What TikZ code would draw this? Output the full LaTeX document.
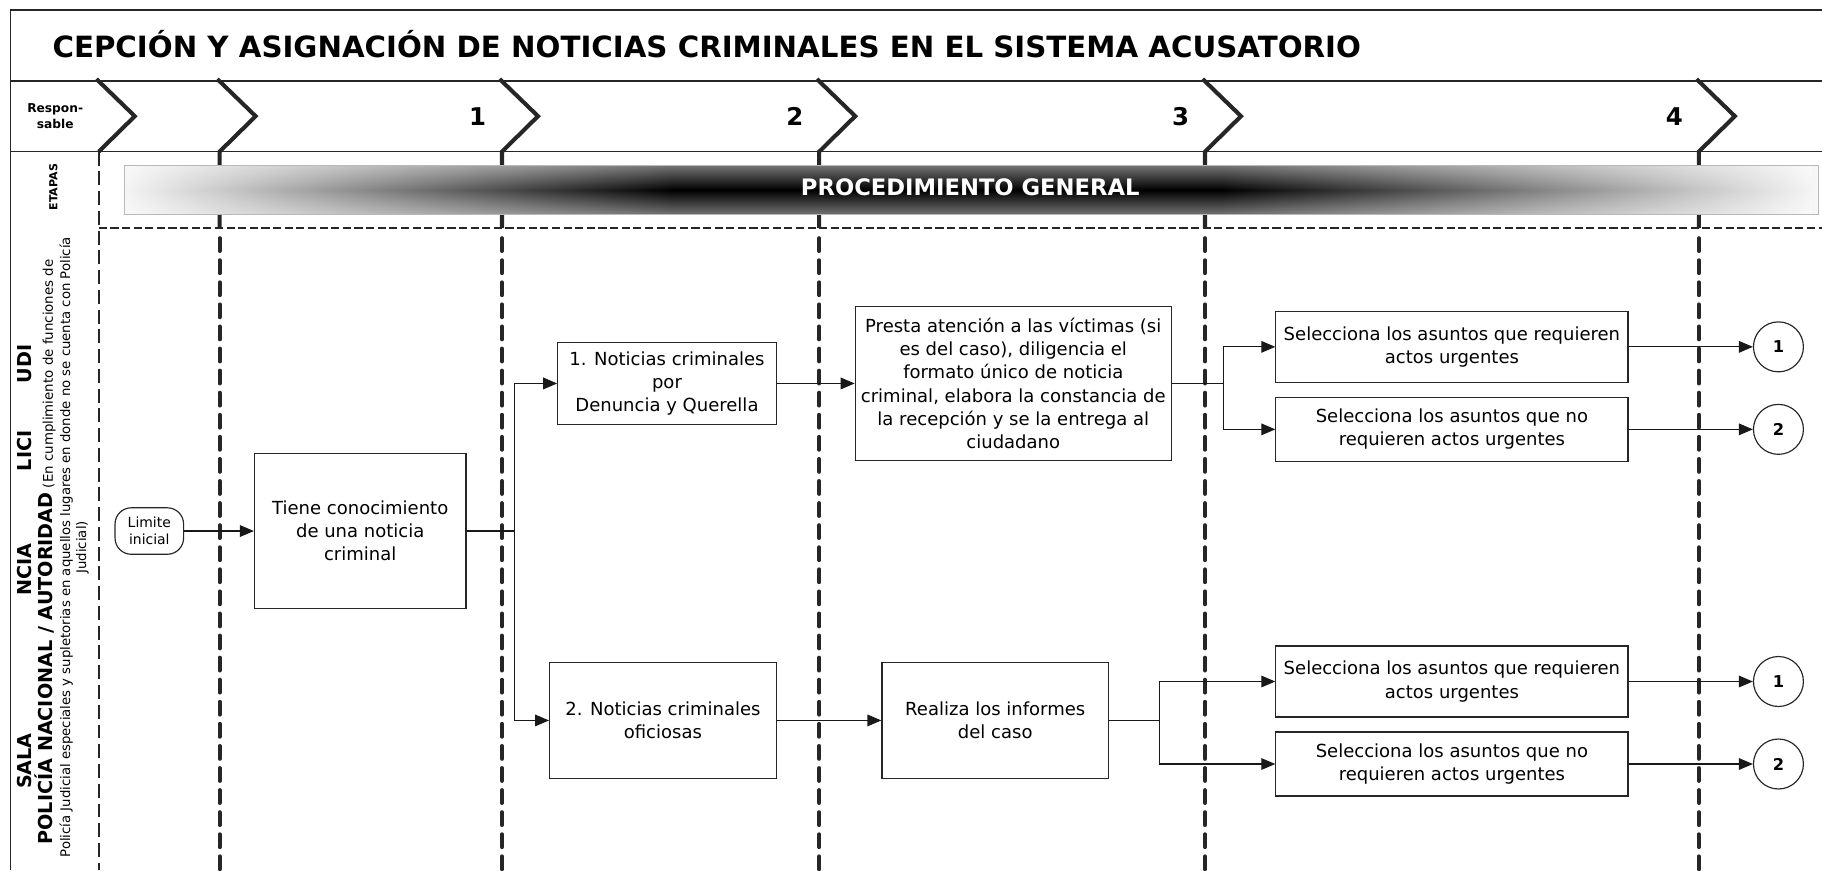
\documentclass[tikz,border=0pt]{standalone}
\usepackage{fontspec}
\setmainfont{DejaVu Sans}
\usetikzlibrary{arrows.meta, positioning, shapes, fadings}
\tikzstyle{proc} = [rectangle, draw=black!85, line width=1pt, fill=white, align=center, inner sep=2pt, font=\fontsize{15.5}{20}\selectfont]
\tikzstyle{term} = [rectangle, rounded corners=14pt, draw=black!85, line width=1pt, align=center, minimum width=59pt, minimum height=40pt, inner sep=0pt, font=\fontsize{12}{14.5}\selectfont]
\tikzstyle{conn} = [circle, draw=black!85, line width=1pt, minimum size=43pt, inner sep=0pt, font=\bfseries\fontsize{14}{14}\selectfont]
\tikzstyle{flow} = [line width=1pt, draw=black!90, -{Triangle[length=12pt,width=10pt]}]
\tikzstyle{link} = [line width=1pt, draw=black!90]
\tikzstyle{chev} = [line width=3.5pt, draw=black!85]
\tikzstyle{lanesep} = [line width=3.5pt, draw=black!85, dash pattern=on 11pt off 8pt, line cap=round]
\tikzstyle{frame} = [line width=1.3pt, draw=black!85]
\tikzfading[name=barfade, top color=transparent!55, bottom color=transparent!55, middle color=transparent!100]

\begin{document}
\begin{tikzpicture}[x=1pt, y=-1pt]
  \useasboundingbox (0,0) rectangle (1568,749);
  % frame and header rows
  \draw[frame] (1568,8.6) -- (8.9,8.6) -- (8.9,749);
  \draw[frame] (8.9,69.7) -- (1568,69.7);
  \draw[frame] (8.9,130.5) -- (1568,130.5);
  \draw[line width=1.8pt, draw=black!85, dash pattern=on 7pt off 3pt] (85,196) -- (1568,196);
  \draw[line width=2pt, draw=black!85, dash pattern=on 12pt off 5pt] (85,130.5) -- (85,749);
  \node[anchor=west, inner sep=0pt, font=\bfseries\fontsize{25.2}{29}\selectfont] (title) at (45,38) {CEPCIÓN Y ASIGNACIÓN DE NOTICIAS CRIMINALES EN EL SISTEMA ACUSATORIO};
  \node[align=center, font=\bfseries\fontsize{10.5}{14}\selectfont] (resp) at (47.5,100) {Respon-\\sable};
  \node[rotate=90, font=\bfseries\fontsize{9.5}{11}\selectfont] (etapas) at (46,161) {ETAPAS};
  % chevrons and lanes
  \draw[chev] (83,68) -- (116,100) -- (85,130.5);
  \foreach \x in {189,432,705,1037,1462} {
    \draw[chev] (\x-2,68) -- (\x+31,100) -- (\x,130.5) -- (\x,196);
    \draw[lanesep] (\x,205) -- (\x,749);
  }
  \foreach \x/\n in {432/1,705/2,1037/3,1462/4}
    \node[font=\bfseries\fontsize{21}{21}\selectfont] (num\n) at (\x-21,100) {\n};
  % stage bar
  \shade[left color=gray!8, right color=black] (107,142.6) rectangle (580,184.4);
  \fill[black] (580,142.6) rectangle (1050,184.4);
  \shade[left color=black, right color=gray!6] (1050,142.6) rectangle (1565,184.4);
  \fill[white, path fading=barfade] (107,142.6) rectangle (1565,184.4);
  \draw[gray!55, line width=0.8pt] (107,142.6) rectangle (1565,184.4);
  \node[text=white, font=\bfseries\fontsize{19.5}{22}\selectfont] (gen) at (835,161) {PROCEDIMIENTO GENERAL};
  % responsible column
  \foreach \w/\y in {UDI/313, LICI/388, NCIA/490, SALA/655}
    \node[rotate=90, font=\bfseries\fontsize{16.5}{18}\selectfont] (r\w) at (21,\y) {\w};
  \node[rotate=90, font=\fontsize{11.5}{13}\selectfont] (pol) at (39,475) {{\bfseries\fontsize{16.5}{18}\selectfont POLICÍA NACIONAL / AUTORIDAD} (En cumplimiento de funciones de};
  \node[rotate=90, font=\fontsize{11.4}{13}\selectfont] (pj) at (57,471) {Policía Judicial especiales y supletorias en aquellos lugares en donde no se cuenta con Policía};
  \node[rotate=90, font=\fontsize{11.4}{13}\selectfont] (jud) at (71,471) {Judicial)};
  % process
  \node[term] (lim) at (128.5,457) {Limite\\inicial};
  \node[proc, minimum width=182pt, minimum height=133pt] (know) at (310,457) {Tiene conocimiento\\de una noticia\\criminal};
  \node[proc, minimum width=188pt, minimum height=70pt] (denu) at (574,330) {1. Noticias criminales\\por\\Denuncia y Querella};
  \node[proc, minimum width=195pt, minimum height=100pt] (ofic) at (570.5,620) {2. Noticias criminales\\oficiosas};
  \node[proc, minimum width=272pt, minimum height=133pt, right=67pt of denu] (aten) {Presta atención a las víctimas (si\\es del caso), diligencia el\\formato único de noticia\\criminal, elabora la constancia de\\la recepción y se la entrega al\\ciudadano};
  \node[proc, minimum width=195pt, minimum height=100pt, right=90pt of ofic] (info) {Realiza los informes\\del caso};
  \node[proc, minimum width=303pt, minimum height=61pt] (urg1) at (1249.5,298.5) {Selecciona los asuntos que requieren\\actos urgentes};
  \node[proc, minimum width=303pt, minimum height=55pt, below=12pt of urg1] (nurg1) {Selecciona los asuntos que no\\requieren actos urgentes};
  \node[proc, minimum width=303pt, minimum height=61pt] (urg2) at (1249.5,586.5) {Selecciona los asuntos que requieren\\actos urgentes};
  \node[proc, minimum width=303pt, minimum height=55pt, below=12pt of urg2] (nurg2) {Selecciona los asuntos que no\\requieren actos urgentes};
  \node[conn, right=107pt of urg1] (c1a) {1};
  \node[conn, right=107pt of nurg1] (c2a) {2};
  \node[conn, right=107pt of urg2] (c1b) {1};
  \node[conn, right=107pt of nurg2] (c2b) {2};
  \coordinate (j1) at (443,0);
  \coordinate (j2) at (1053,0);
  \coordinate (j3) at (998,0);
  \draw[flow] (lim) -- (know);
  \draw[link] (know.east) -- (know.east -| j1);
  \draw[flow] (know.east -| j1) |- (denu.west);
  \draw[flow] (know.east -| j1) |- (ofic.west);
  \draw[flow] (denu) -- (aten);
  \draw[flow] (ofic) -- (info);
  \draw[link] (aten.east) -- (aten.east -| j2);
  \draw[flow] (aten.east -| j2) |- (urg1.west);
  \draw[flow] (aten.east -| j2) |- (nurg1.west);
  \draw[link] (info.east) -- (info.east -| j3);
  \draw[flow] (info.east -| j3) |- (urg2.west);
  \draw[flow] (info.east -| j3) |- (nurg2.west);
  \draw[flow] (urg1) -- (c1a);
  \draw[flow] (nurg1) -- (c2a);
  \draw[flow] (urg2) -- (c1b);
  \draw[flow] (nurg2) -- (c2b);
\end{tikzpicture}
\end{document}
